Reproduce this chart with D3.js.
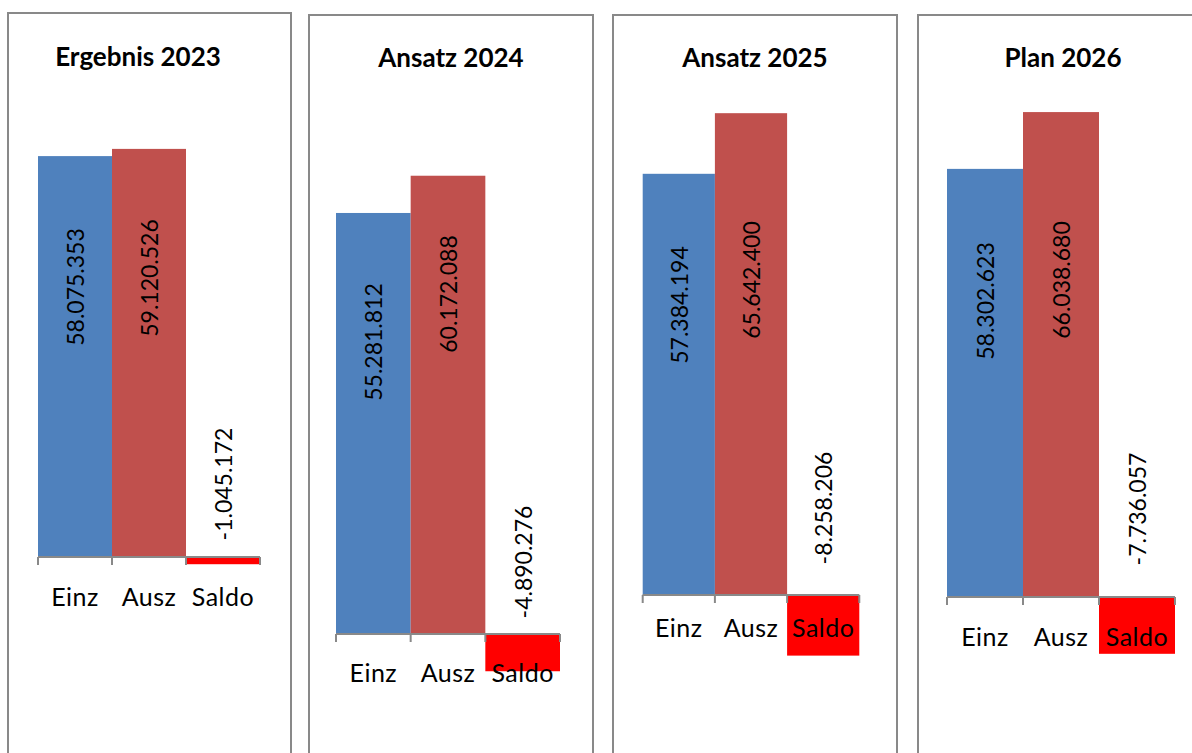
<!DOCTYPE html>
<html lang="de">
<head>
<meta charset="utf-8">
<title>Einzahlungen und Auszahlungen 2023–2026</title>
<script src="https://cdn.jsdelivr.net/npm/d3@7/dist/d3.min.js"></script>
<style>
  html, body { margin: 0; padding: 0; background: #ffffff; }
  svg { display: block; }
  text { font-family: Lato, "Open Sans", sans-serif; fill: #000; }
</style>
</head>
<body>
<svg id="chart" width="1192" height="753"></svg>
<script>
// ---- Daten ----
const categories = ["Einz", "Ausz", "Saldo"];
const panelTitles = ["Ergebnis 2023", "Ansatz 2024", "Ansatz 2025", "Plan 2026"];
const einzahlungen = [58075353, 55281812, 57384194, 58302623];
const auszahlungen = [59120526, 60172088, 65642400, 66038680];
const saldo = [-1045172, -4890276, -8258206, -7736057];

// ---- Layout je Teilgrafik ----
// box: Rahmen [x, y, Breite]; plot: x-Bereich der Säulen; base: y der Nulllinie;
// pxPerMio: Pixel je Million; titleX/titleY: Titelposition;
// catDy: Abstand der Kategorienbeschriftung unter der Achse;
// labelDy: Mitte der Wertbeschriftung über der Nulllinie (Einz, Ausz, Saldo)
const layout = [
  { box: [8, 13, 283],   plot: [38, 260],     base: 557, pxPerMio: 6.903, titleX: 138,  titleY: 66, catDy: 49, labelDy: [270, 279, 73] },
  { box: [309, 15, 284], plot: [336, 560],    base: 634, pxPerMio: 7.616, titleX: 451,  titleY: 67, catDy: 48, labelDy: [292, 340, 72] },
  { box: [613, 15, 284], plot: [642.7, 859.3], base: 595, pxPerMio: 7.34, titleX: 755,  titleY: 67, catDy: 42, labelDy: [290, 315, 87] },
  { box: [918, 15, 284], plot: [947, 1175],   base: 597, pxPerMio: 7.343, titleX: 1063, titleY: 67, catDy: 49, labelDy: [296, 317, 88] }
];

const barColors = { Einz: "#4F81BD", Ausz: "#C0504D", Saldo: "#FF0000" };
const axisColor = "#898989";

const de = d3.formatLocale({ decimal: ",", thousands: ".", grouping: [3], currency: ["", " €"], minus: "-" });
const fmt = de.format(",d");

const svg = d3.select("#chart");

layout.forEach((L, i) => {
  const values = [einzahlungen[i], auszahlungen[i], saldo[i]];
  const rows = categories.map((c, j) => ({ cat: c, value: values[j], labelDy: L.labelDy[j] }));

  const g = svg.append("g").attr("class", "panel");

  // Rahmen (unten offen bis über den Bildrand)
  g.append("rect")
    .attr("x", L.box[0])
    .attr("y", L.box[1])
    .attr("width", L.box[2])
    .attr("height", 800)
    .attr("fill", "none")
    .attr("stroke", axisColor)
    .attr("stroke-width", 2);

  // Skalen
  const x = d3.scaleBand().domain(categories).range(L.plot).padding(0);
  const y = d3.scaleLinear()
    .domain([-10e6, 70e6])
    .range([L.base + 10 * L.pxPerMio, L.base - 70 * L.pxPerMio]);

  // Titel
  g.append("text")
    .attr("x", L.titleX)
    .attr("y", L.titleY)
    .attr("text-anchor", "middle")
    .style("font-size", "26px")
    .style("font-weight", 700)
    .text(panelTitles[i]);

  // Säulen
  g.selectAll("rect.bar")
    .data(rows)
    .join("rect")
    .attr("class", "bar")
    .attr("x", d => x(d.cat))
    .attr("width", x.bandwidth())
    .attr("y", d => Math.min(y(d.value), y(0)))
    .attr("height", d => Math.abs(y(d.value) - y(0)))
    .attr("fill", d => barColors[d.cat]);

  // Kategorienachse mit Teilstrichen an den Kategoriegrenzen
  const axis = g.append("g").attr("class", "x-axis");
  const bounds = categories.map(c => x(c)).concat([x.range()[1]]);
  axis.append("line")
    .attr("x1", bounds[0]).attr("x2", bounds[bounds.length - 1])
    .attr("y1", y(0)).attr("y2", y(0))
    .attr("stroke", axisColor).attr("stroke-width", 2);
  axis.selectAll("line.tick")
    .data(bounds)
    .join("line")
    .attr("class", "tick")
    .attr("x1", d => d).attr("x2", d => d)
    .attr("y1", y(0)).attr("y2", y(0) + 8)
    .attr("stroke", axisColor).attr("stroke-width", 2);

  // Kategorienbeschriftung
  axis.selectAll("text")
    .data(categories)
    .join("text")
    .attr("x", c => x(c) + x.bandwidth() / 2)
    .attr("y", y(0) + L.catDy)
    .attr("text-anchor", "middle")
    .style("font-size", "25px")
    .style("letter-spacing", "0.5px")
    .text(c => c);

  // Wertbeschriftung, senkrecht
  g.selectAll("text.value")
    .data(rows)
    .join("text")
    .attr("class", "value")
    .attr("transform", d => `translate(${x(d.cat) + x.bandwidth() / 2},${y(0) - d.labelDy}) rotate(-90)`)
    .attr("text-anchor", "middle")
    .attr("dominant-baseline", "central")
    .style("font-size", "23px")
    .text(d => fmt(d.value));
});
</script>
</body>
</html>
